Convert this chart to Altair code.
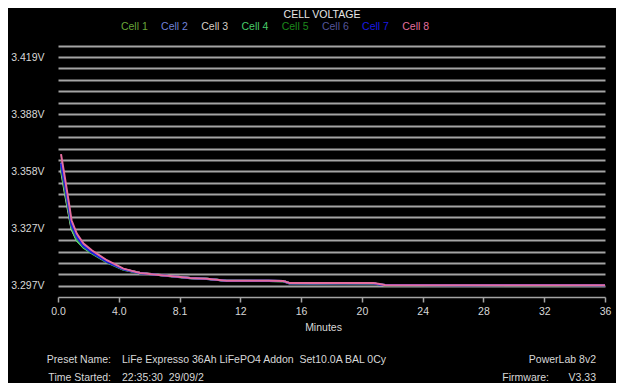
import altair as alt
import pandas as pd

TITLE = "CELL VOLTAGE"
CELLS = ["Cell 1", "Cell 2", "Cell 3", "Cell 4", "Cell 5", "Cell 6", "Cell 7", "Cell 8"]
COLORS = ["#68a53a", "#7080d8", "#d6cec6", "#48cc6a", "#1c881c", "#55559a", "#1a1ae0", "#e46e9e"]

# minutes
TIME = [0.2, 0.45, 0.7, 0.9, 1.25, 1.7, 2.25, 3.25, 4.35, 5.45,
        6.55, 7.65, 8.8, 9.9, 11.2, 12.4, 14.0, 15.0, 15.4, 17.0,
        19.0, 21.0, 21.4, 21.8, 24.0, 27.0, 30.0, 33.0, 36.4]

CELL_1 = [3.3608, 3.3488, 3.3378, 3.3288, 3.3223, 3.3178, 3.3146, 3.3098, 3.3058, 3.3038,
          3.3030, 3.3020, 3.3012, 3.3008, 3.2998, 3.2997, 3.2996, 3.2995, 3.2984, 3.2984,
          3.2984, 3.2983, 3.2976, 3.2974, 3.2975, 3.2974, 3.2975, 3.2974, 3.2975]
CELL_2 = [3.3628, 3.3508, 3.3393, 3.3298, 3.3233, 3.3186, 3.3153, 3.3103, 3.3060, 3.3038,
          3.3029, 3.3021, 3.3011, 3.3007, 3.2997, 3.2997, 3.2997, 3.2996, 3.2984, 3.2983,
          3.2984, 3.2984, 3.2977, 3.2975, 3.2974, 3.2974, 3.2974, 3.2975, 3.2974]
CELL_3 = [3.3588, 3.3468, 3.3358, 3.3273, 3.3213, 3.3176, 3.3148, 3.3100, 3.3058, 3.3040,
          3.3031, 3.3021, 3.3012, 3.3008, 3.2998, 3.2998, 3.2997, 3.2996, 3.2985, 3.2984,
          3.2985, 3.2984, 3.2978, 3.2975, 3.2975, 3.2975, 3.2975, 3.2975, 3.2975]
CELL_4 = [3.3598, 3.3478, 3.3368, 3.3278, 3.3213, 3.3173, 3.3143, 3.3096, 3.3056, 3.3038,
          3.3030, 3.3021, 3.3012, 3.3008, 3.2997, 3.2996, 3.2996, 3.2995, 3.2984, 3.2983,
          3.2984, 3.2983, 3.2977, 3.2974, 3.2974, 3.2975, 3.2974, 3.2974, 3.2975]
CELL_5 = [3.3613, 3.3493, 3.3383, 3.3290, 3.3226, 3.3180, 3.3148, 3.3100, 3.3058, 3.3038,
          3.3030, 3.3020, 3.3011, 3.3008, 3.2997, 3.2997, 3.2996, 3.2995, 3.2983, 3.2984,
          3.2983, 3.2983, 3.2976, 3.2974, 3.2974, 3.2974, 3.2974, 3.2974, 3.2974]
CELL_6 = [3.3618, 3.3503, 3.3388, 3.3293, 3.3228, 3.3183, 3.3150, 3.3102, 3.3059, 3.3039,
          3.3029, 3.3020, 3.3011, 3.3007, 3.2997, 3.2996, 3.2996, 3.2995, 3.2983, 3.2983,
          3.2983, 3.2983, 3.2976, 3.2974, 3.2974, 3.2974, 3.2974, 3.2974, 3.2974]
CELL_7 = [3.3622, 3.3518, 3.3398, 3.3298, 3.3233, 3.3183, 3.3148, 3.3098, 3.3058, 3.3038,
          3.3030, 3.3021, 3.3012, 3.3008, 3.2998, 3.2997, 3.2997, 3.2996, 3.2984, 3.2984,
          3.2984, 3.2984, 3.2977, 3.2975, 3.2975, 3.2974, 3.2975, 3.2975, 3.2974]
CELL_8 = [3.3672, 3.3551, 3.3426, 3.3320, 3.3249, 3.3196, 3.3160, 3.3107, 3.3062, 3.3039,
          3.3030, 3.3021, 3.3012, 3.3008, 3.2998, 3.2997, 3.2997, 3.2996, 3.2986, 3.2986,
          3.2986, 3.2986, 3.2980, 3.2974, 3.2974, 3.2974, 3.2974, 3.2974, 3.2974]
SERIES = [CELL_1, CELL_2, CELL_3, CELL_4, CELL_5, CELL_6, CELL_7, CELL_8]

X_MAX = 36.4
X_TICK_LABELS = ["0.0", "4.0", "8.1", "12", "16", "20", "24", "28", "32", "36"]
X_TITLE = "Minutes"

Y_DOMAIN = [3.2911, 3.4254]
Y_GRID_BASE = 3.297
Y_GRID_STEP = 0.0061
Y_GRID_COUNT = 22
Y_LABEL_VALUES = [3.297, 3.3275, 3.358, 3.3885, 3.419]
Y_LABELS = ["3.297V", "3.327V", "3.358V", "3.388V", "3.419V"]

FOOTER_KEYS = ["Preset Name:", "Time Started:"]
FOOTER_VALUES = ["LiFe Expresso 36Ah LiFePO4 Addon\u00a0 Set10.0A BAL 0Cy", "22:35:30\u00a0 29/09/2"]
FOOTER_RIGHT_KEYS = ["", "Firmware:"]
FOOTER_RIGHT_VALUES = ["PowerLab 8v2", "V3.33"]

# ---- layout ----
W, H = 547, 252
FONT = "Liberation Sans"
FS = 10.5
TEXT_COLOR = "#d8d8d8"
GRID_COLOR = "#a4a4a4"

rows = []
for name, vals in zip(CELLS, SERIES):
    for t, v in zip(TIME, vals):
        rows.append({"cell": name, "minutes": t, "volts": v})
df = pd.DataFrame(rows)

x_ticks = [i * X_MAX / (len(X_TICK_LABELS) - 1) for i in range(len(X_TICK_LABELS))]
x_label_expr = "[" + ",".join("'%s'" % s for s in X_TICK_LABELS) + "][round(datum.value / %f)]" % (X_MAX / (len(X_TICK_LABELS) - 1))
y_grid = [round(Y_GRID_BASE + k * Y_GRID_STEP, 5) for k in range(Y_GRID_COUNT)]
y_label_expr = ""
for v, s in zip(Y_LABEL_VALUES, Y_LABELS):
    y_label_expr += "abs(datum.value - %f) < 0.0003 ? '%s' : " % (v, s)
y_label_expr += "''"

color_scale = alt.Scale(domain=CELLS, range=COLORS)

lines = alt.Chart(df).mark_line(strokeWidth=2, clip=True).encode(
    x=alt.X("minutes:Q",
            scale=alt.Scale(domain=[0, X_MAX], nice=False, zero=False),
            axis=alt.Axis(values=x_ticks, labelExpr=x_label_expr, title=X_TITLE,
                          grid=False, domainColor=GRID_COLOR, domainWidth=1.5,
                          tickColor=GRID_COLOR, tickSize=5, tickWidth=1.5,
                          labelPadding=4, labelColor=TEXT_COLOR, labelFont=FONT,
                          labelFontSize=FS, labelFlush=False, labelOverlap=False,
                          titleColor=TEXT_COLOR, titleFont=FONT, titleFontSize=FS,
                          titleFontWeight="normal", titleX=265, titleY=30,
                          titleBaseline="middle")),
    y=alt.Y("volts:Q",
            scale=alt.Scale(domain=Y_DOMAIN, nice=False, zero=False),
            axis=alt.Axis(values=y_grid, labelExpr=y_label_expr, title=None,
                          grid=True, gridColor=GRID_COLOR, gridWidth=2,
                          domain=False, ticks=False, labelPadding=14,
                          labelColor=TEXT_COLOR, labelFont=FONT, labelFontSize=FS,
                          labelOverlap=False, labelBaseline="middle")),
    color=alt.Color("cell:N", scale=color_scale, legend=None),
    order=alt.Order("minutes:Q"),
    detail="cell:N",
)

layers = [lines]

# title
layers.append(alt.Chart(pd.DataFrame({"t": [TITLE]})).mark_text(
    font=FONT, fontSize=FS, color="#e6e6e6", align="center", baseline="middle"
).encode(x=alt.value(264), y=alt.value(-30), text="t:N"))

# legend of colored labels
for i, name in enumerate(CELLS):
    layers.append(alt.Chart(pd.DataFrame({"cell": [name]})).mark_text(
        font=FONT, fontSize=FS, align="center", baseline="middle"
    ).encode(x=alt.value(76.3 + 40.2 * i), y=alt.value(-18), text="cell:N",
             color=alt.Color("cell:N", scale=color_scale, legend=None)))

# footer
for j in range(2):
    yy = 315 + 18 * j
    layers.append(alt.Chart(pd.DataFrame({"t": [FOOTER_KEYS[j]]})).mark_text(
        font=FONT, fontSize=FS, color=TEXT_COLOR, align="right", baseline="middle"
    ).encode(x=alt.value(53), y=alt.value(yy), text="t:N"))
    layers.append(alt.Chart(pd.DataFrame({"t": [FOOTER_VALUES[j]]})).mark_text(
        font=FONT, fontSize=FS, color=TEXT_COLOR, align="left", baseline="middle"
    ).encode(x=alt.value(64), y=alt.value(yy), text="t:N"))
    if FOOTER_RIGHT_KEYS[j]:
        layers.append(alt.Chart(pd.DataFrame({"t": [FOOTER_RIGHT_KEYS[j]]})).mark_text(
            font=FONT, fontSize=FS, color=TEXT_COLOR, align="right", baseline="middle"
        ).encode(x=alt.value(491), y=alt.value(yy), text="t:N"))
    layers.append(alt.Chart(pd.DataFrame({"t": [FOOTER_RIGHT_VALUES[j]]})).mark_text(
        font=FONT, fontSize=FS, color=TEXT_COLOR, align="right", baseline="middle"
    ).encode(x=alt.value(538), y=alt.value(yy), text="t:N"))

chart = alt.layer(*layers).properties(
    width=W, height=H,
    autosize=alt.AutoSizeParams(type="none"),
    padding={"left": 50, "top": 37, "right": 11, "bottom": 86},
    background="#000000",
).configure_view(stroke=None)

chart.save("out.html", embed_options={"renderer": "svg", "actions": False})
